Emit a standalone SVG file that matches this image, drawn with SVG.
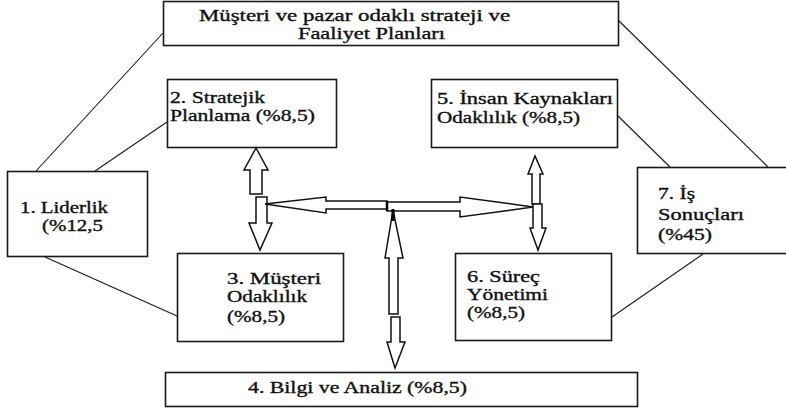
<svg xmlns="http://www.w3.org/2000/svg" width="786" height="410" viewBox="0 0 786 410">
<style>
.box{fill:#fff;stroke:#1a1a1a;stroke-width:1.6}
.t{font-family:"Liberation Serif","DejaVu Serif",serif;font-size:16px;fill:#111;stroke:#111;stroke-width:0.35}
.ln{stroke:#1a1a1a;stroke-width:1.1;fill:none}
.ar{fill:#fff;stroke:#111;stroke-width:1.5;stroke-linejoin:miter}
</style>
<rect width="786" height="410" fill="#fff"/>
<g id="connectors">
<line class="ln" x1="163" y1="33" x2="36" y2="171"/>
<line class="ln" x1="167" y1="122" x2="95" y2="171"/>
<line class="ln" x1="45" y1="257" x2="177" y2="316"/>
<line class="ln" x1="618" y1="20" x2="768" y2="167"/>
<line class="ln" x1="617" y1="115" x2="670" y2="167"/>
<line class="ln" x1="703" y1="254" x2="612" y2="317"/>
<polygon class="ar" points="256,148 244,170 250,170 250,194 262,194 262,170 268,170"/>
<polygon class="ar" points="256,197 267,197 267,223 272,223 260,250 249,223 256,223"/>
<polygon class="ar" points="265,204 326,197 326,201 387,201 387,209 326,209 326,213"/>
<polygon class="ar" points="387,202 460,202 460,197 533,207 460,217 460,211 387,211"/>
<line x1="387" y1="201" x2="387" y2="211" stroke="#000" stroke-width="2.5"/>
<polygon class="ar" points="535,156 528,174 532,174 532,204 540,204 540,174 543,174"/>
<polygon class="ar" points="533,204 542,204 542,228 546,228 538,250 530,228 533,228"/>
<polygon class="ar" points="393,210 385,258 389,258 389,314 398,314 398,258 403,258"/>
<line x1="393" y1="209" x2="393" y2="221" stroke="#000" stroke-width="3"/>
<polygon class="ar" points="391,317 400,317 400,342 405,342 395,368 387,342 391,342"/>
</g>
<g id="node-top">
<rect class="box" x="163.5" y="1.5" width="455" height="44"/>
<text class="t" x="199" y="21" textLength="311" lengthAdjust="spacingAndGlyphs">Müşteri ve pazar odaklı strateji ve</text>
<text class="t" x="298" y="39" textLength="147" lengthAdjust="spacingAndGlyphs">Faaliyet Planları</text>
</g>
<g id="node-1">
<rect class="box" x="7.5" y="171.5" width="140" height="85"/>
<text class="t" x="20" y="213" textLength="88" lengthAdjust="spacingAndGlyphs">1. Liderlik</text>
<text class="t" x="42" y="231" textLength="61" lengthAdjust="spacingAndGlyphs">(%12,5</text>
</g>
<g id="node-2">
<rect class="box" x="167.5" y="79.5" width="169" height="68"/>
<text class="t" x="170" y="103" textLength="95" lengthAdjust="spacingAndGlyphs">2. Stratejik</text>
<text class="t" x="170" y="121" textLength="145" lengthAdjust="spacingAndGlyphs">Planlama (%8,5)</text>
</g>
<g id="node-3">
<rect class="box" x="177.5" y="253.5" width="166" height="88"/>
<text class="t" x="227" y="284" textLength="94" lengthAdjust="spacingAndGlyphs">3. Müşteri</text>
<text class="t" x="227" y="302" textLength="80" lengthAdjust="spacingAndGlyphs">Odaklılık</text>
<text class="t" x="227" y="322" textLength="58" lengthAdjust="spacingAndGlyphs">(%8,5)</text>
</g>
<g id="node-4">
<rect class="box" x="165.5" y="372.5" width="472" height="34"/>
<text class="t" x="248" y="393" textLength="219" lengthAdjust="spacingAndGlyphs">4. Bilgi ve Analiz (%8,5)</text>
</g>
<g id="node-5">
<rect class="box" x="431.5" y="79.5" width="186" height="68"/>
<text class="t" x="437" y="104" textLength="176" lengthAdjust="spacingAndGlyphs">5. İnsan Kaynakları</text>
<text class="t" x="437" y="123" textLength="143" lengthAdjust="spacingAndGlyphs">Odaklılık (%8,5)</text>
</g>
<g id="node-6">
<rect class="box" x="455.5" y="253.5" width="156" height="87"/>
<text class="t" x="467" y="282" textLength="73" lengthAdjust="spacingAndGlyphs">6. Süreç</text>
<text class="t" x="467" y="300" textLength="81" lengthAdjust="spacingAndGlyphs">Yönetimi</text>
<text class="t" x="467" y="318" textLength="58" lengthAdjust="spacingAndGlyphs">(%8,5)</text>
</g>
<g id="node-7">
<rect class="box" x="637.5" y="167.5" width="160" height="86"/>
<text class="t" x="658" y="199" textLength="37" lengthAdjust="spacingAndGlyphs">7. İş</text>
<text class="t" x="658" y="220" textLength="86" lengthAdjust="spacingAndGlyphs">Sonuçları</text>
<text class="t" x="658" y="240" textLength="54" lengthAdjust="spacingAndGlyphs">(%45)</text>
</g>
</svg>
